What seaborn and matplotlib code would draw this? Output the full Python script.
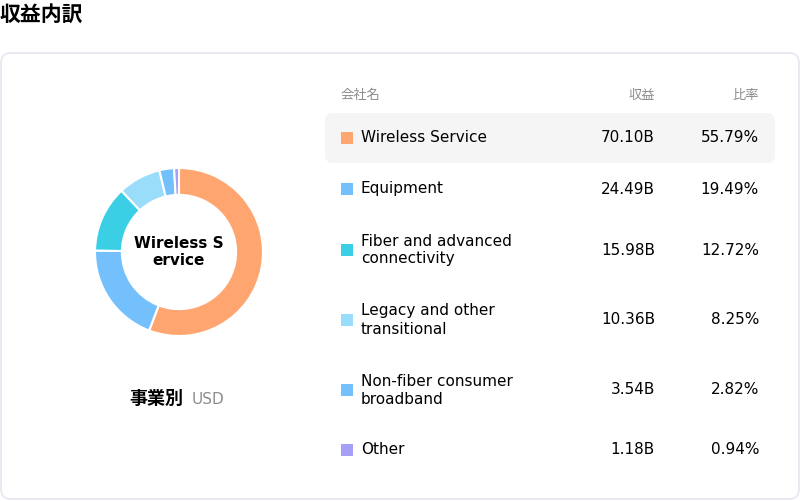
import matplotlib
matplotlib.use("Agg")
import matplotlib.pyplot as plt
import seaborn as sns
from matplotlib.patches import FancyBboxPatch, Rectangle

categories = ["Wireless Service", "Equipment", "Fiber and advanced\nconnectivity",
              "Legacy and other\ntransitional", "Non-fiber consumer\nbroadband", "Other"]
revenue = [70.10, 24.49, 15.98, 10.36, 3.54, 1.18]
revenue_labels = ["70.10B", "24.49B", "15.98B", "10.36B", "3.54B", "1.18B"]
ratio_labels = ["55.79%", "19.49%", "12.72%", "8.25%", "2.82%", "0.94%"]
colors = ["#FFA570", "#74C0FC", "#3BCFE6", "#99DDFA", "#74C0FC", "#A5A0F5"]

sns.set_theme(style="white")
plt.rcParams['font.family'] = ['DejaVu Sans', 'Noto Sans CJK JP']
plt.rcParams['text.color'] = 'black'

W, H = 800, 501
fig = plt.figure(figsize=(8, 5.01), dpi=100)
ax = fig.add_axes([0, 0, 1, 1])
ax.set_xlim(0, W); ax.set_ylim(H, 0); ax.axis("off")

ax.text(0, 16, "収益内訳", fontsize=15, fontweight="bold", va="center", ha="left")
ax.add_patch(FancyBboxPatch((1, 53), 798, 446, boxstyle="round,pad=0,rounding_size=10",
                            fc="white", ec="#E2E0EC", lw=1))
ax.add_patch(FancyBboxPatch((325, 113), 450, 50, boxstyle="round,pad=0,rounding_size=8",
                            fc="#F5F5F5", ec="none"))

gray = "#8C8C8C"
ax.text(341, 95, "会社名", fontsize=9.5, color=gray, va="center")
ax.text(655, 95, "収益", fontsize=9.5, color=gray, va="center", ha="right")
ax.text(759, 95, "比率", fontsize=9.5, color=gray, va="center", ha="right")

ys = [138, 189, 250, 320, 390, 450]
for y, c, cat, rv, rt in zip(ys, colors, categories, revenue_labels, ratio_labels):
    ax.add_patch(Rectangle((341, y - 6), 12, 12, fc=c, ec="none"))
    ax.text(361, y, cat, fontsize=11, va="center", ha="left", linespacing=1.25)
    ax.text(655, y, rv, fontsize=11, va="center", ha="right")
    ax.text(759, y, rt, fontsize=11, va="center", ha="right")

ax.text(183, 399, "事業別", fontsize=13, fontweight="bold", va="center", ha="right")
ax.text(192, 399, "USD", fontsize=11, color=gray, va="center", ha="left")

cx, cy, r = 179, 252, 84
pax = fig.add_axes([(cx - r) / W, (H - cy - r) / H, 2 * r / W, 2 * r / H])
pax.pie(revenue, colors=colors, startangle=90, counterclock=False,
        wedgeprops=dict(width=0.32, edgecolor="white", linewidth=1.5))
pax.set_aspect("auto")
pax.set_xlim(-1, 1); pax.set_ylim(-1, 1)
pax.text(0, 0, "Wireless S\nervice", fontsize=11, fontweight="bold", ha="center",
         va="center", linespacing=1.1)

fig.savefig("out.png", dpi=100)
